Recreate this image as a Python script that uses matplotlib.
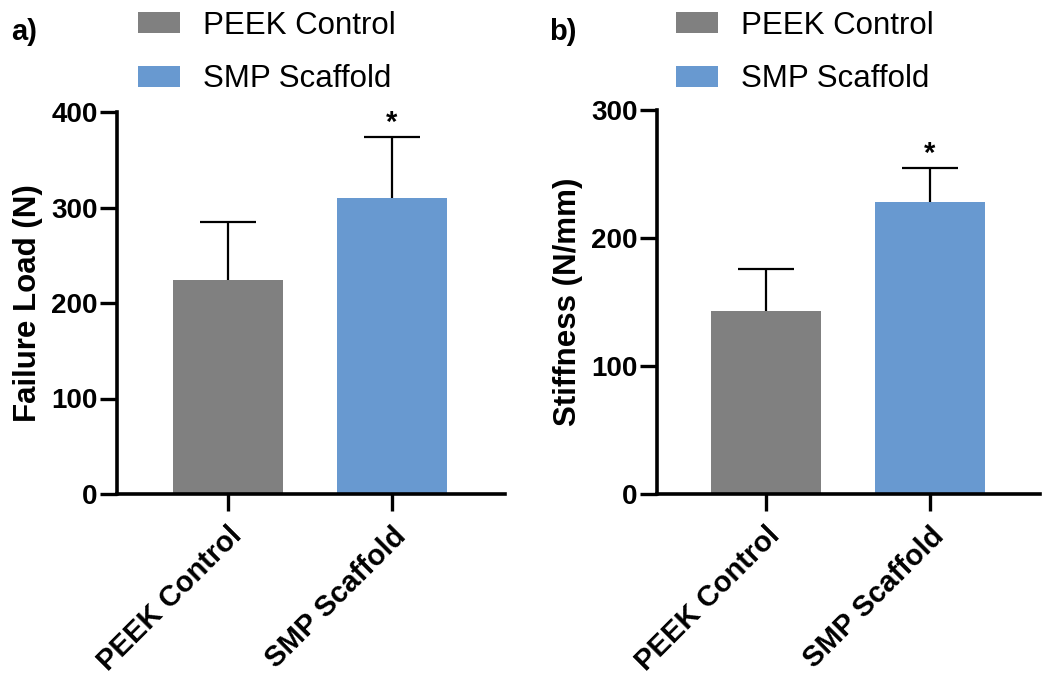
import matplotlib
matplotlib.use("Agg")
import matplotlib.pyplot as plt
from matplotlib.patches import Patch

plt.rcParams['font.family'] = ['Liberation Sans', 'DejaVu Sans']

# data
groups = ['PEEK Control', 'SMP Scaffold']
colors = ['#808080', '#6899d0']

load_mean = [224, 310]
load_err = [61, 64]

stiff_mean = [143, 228]
stiff_err = [33, 27]

panels = [
    ('a)', 'Failure Load (N)', load_mean, load_err, [0, 100, 200, 300, 400], 400),
    ('b)', 'Stiffness (N/mm)', stiff_mean, stiff_err, [0, 100, 200, 300], 300),
]

fig = plt.figure(figsize=(10.5, 6.78), dpi=100)

# axes boxes in figure fractions
boxes = [
    [117 / 1050, 184 / 678, 388 / 1050, 382 / 678],
    [657 / 1050, 184 / 678, 383 / 1050, 384 / 678],
]
xlims = [(-0.677, 1.689), (-0.665, 1.671)]
label_x = [11 / 1050, 549 / 1050]
legend_x = [138 / 1050, 676 / 1050]

for i, (tag, ylabel, means, errs, yticks, ytop) in enumerate(panels):
    ax = fig.add_axes(boxes[i])
    x = list(range(len(groups)))
    ax.bar(x, means, width=0.67, color=colors, zorder=2)
    # full error bar drawn behind the bar, so only the upper half shows
    ax.errorbar(x, means, yerr=errs, fmt='none',
                ecolor='black', elinewidth=1.6, capsize=20, capthick=1.6,
                zorder=1)
    # significance star above the scaffold bar
    ax.annotate('*', (1, means[1] + errs[1]), xytext=(0, 0),
                textcoords='offset points', ha='center', va='bottom',
                fontsize=21, fontweight='bold')

    ax.set_xlim(*xlims[i])
    ax.set_ylim(0, ytop)
    ax.set_yticks(yticks)
    ax.set_xticks(x)
    ax.set_xticklabels(groups, rotation=45, ha='right', va='top',
                       rotation_mode='anchor', fontsize=21, fontweight='bold')
    ax.set_ylabel(ylabel, fontsize=22.5, fontweight='bold', labelpad=6)
    for lab in ax.get_yticklabels():
        lab.set_fontsize(20)
        lab.set_fontweight('bold')

    ax.spines['top'].set_visible(False)
    ax.spines['right'].set_visible(False)
    ax.spines['left'].set_linewidth(2.6)
    ax.spines['bottom'].set_linewidth(2.6)
    ax.tick_params(axis='both', direction='out', length=12, width=2.4,
                   pad=2)
    ax.tick_params(axis='x', pad=8)

    fig.text(label_x[i], 1 - 32 / 678, tag, fontsize=21, fontweight='bold',
             ha='left', va='center')

    handles = [Patch(facecolor=c, edgecolor='none') for c in colors]
    fig.legend(handles, groups, loc='upper left',
               bbox_to_anchor=(legend_x[i], 1 - 10.5 / 678), frameon=False,
               fontsize=22.5, handlelength=1.34, handleheight=0.67,
               handletextpad=0.74, labelspacing=0.76, borderpad=0,
               borderaxespad=0)

fig.savefig('out.png', dpi=100)
